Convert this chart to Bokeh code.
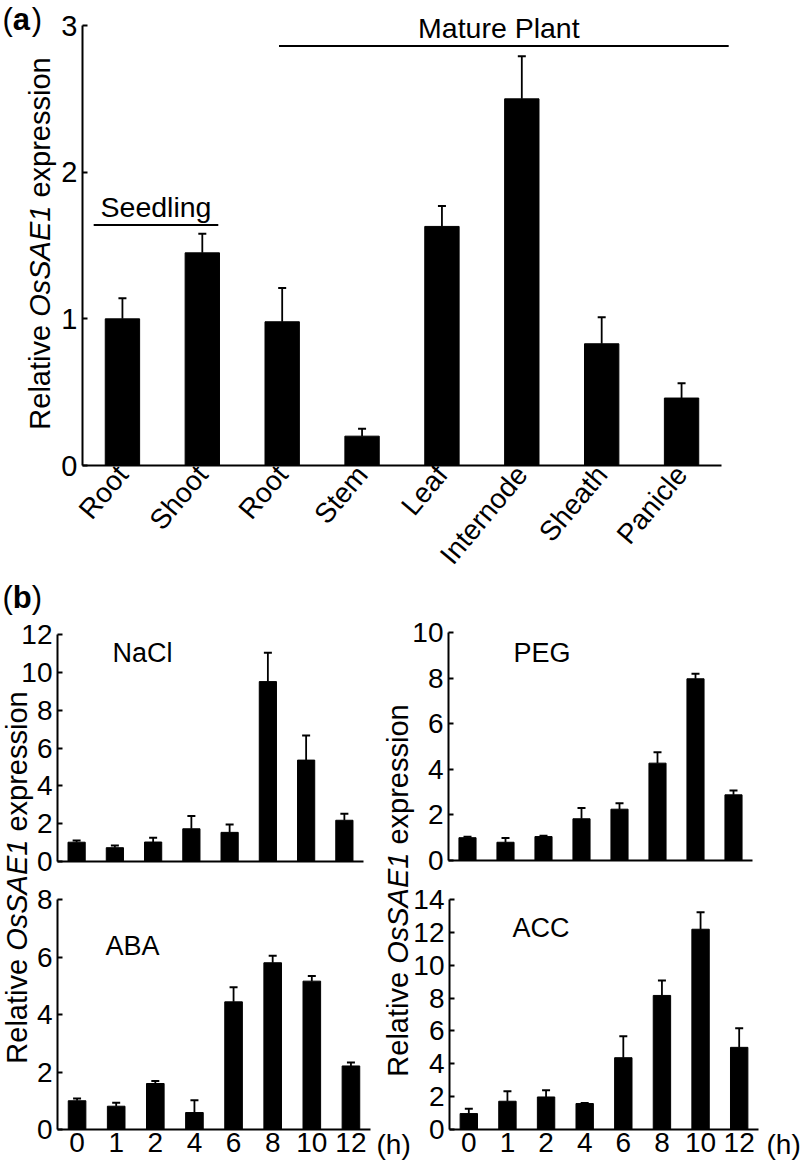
import numpy as np
from math import pi
from bokeh.plotting import figure
from bokeh.layouts import column
from bokeh.models import (Range1d, FixedTicker, ColumnDataSource, Whisker, TeeHead,
                          Label)
from bokeh.embed import file_html
from bokeh.resources import INLINE

W, H = 800, 1167
FONT = "Liberation Sans"

# ---------------- data ----------------
tissues = ["Root", "Shoot", "Root", "Stem", "Leaf", "Internode", "Sheath", "Panicle"]
tissue_expr = [1.00, 1.45, 0.98, 0.20, 1.63, 2.50, 0.83, 0.46]
tissue_err = [0.14, 0.13, 0.23, 0.05, 0.14, 0.29, 0.18, 0.10]

groups = ["Seedling", "Mature Plant"]
group_start = [-0.36, 1.96]
group_end = [1.20, 7.59]
group_level = [1.64, 2.86]

hours = ["0", "1", "2", "4", "6", "8", "10", "12"]
nacl_expr = [1.02, 0.73, 1.03, 1.73, 1.54, 9.51, 5.36, 2.18]
nacl_err = [0.09, 0.12, 0.23, 0.68, 0.41, 1.53, 1.30, 0.35]
peg_expr = [1.00, 0.80, 1.05, 1.83, 2.25, 4.27, 7.97, 2.88]
peg_err = [0.04, 0.19, 0.04, 0.47, 0.26, 0.48, 0.22, 0.19]
aba_expr = [1.00, 0.81, 1.60, 0.59, 4.44, 5.80, 5.16, 2.21]
aba_err = [0.08, 0.12, 0.09, 0.43, 0.51, 0.24, 0.18, 0.12]
acc_expr = [0.97, 1.72, 1.98, 1.58, 4.37, 8.16, 12.19, 5.00]
acc_err = [0.29, 0.61, 0.41, 0.04, 1.30, 0.91, 1.03, 1.17]

nacl_ticks = [0, 2, 4, 6, 8, 10, 12]
peg_ticks = [0, 2, 4, 6, 8, 10]
aba_ticks = [0, 2, 4, 6, 8]
acc_ticks = [0, 2, 4, 6, 8, 10, 12, 14]
tissue_ticks = [0, 1, 2, 3]

X_LO, X_HI = -0.5, 7.5


def base_fig(**kw):
    p = figure(width=W, height=H, output_backend="svg", toolbar_location=None,
               tools="", title=None, **kw)
    try:
        p.frame_align = False
    except Exception:
        pass
    p.background_fill_alpha = 0
    p.border_fill_alpha = 0
    p.outline_line_color = None
    p.xgrid.visible = False
    p.ygrid.visible = False
    return p


def make_panel(left, top, fw, fh, labels, values, errors, yticks, bar_w,
               ytick_size="28px", xtick_size="28px", show_x=True,
               xlab_angle=0, xlab_standoff=3, first=False):
    p = base_fig(x_range=Range1d(X_LO, X_HI), y_range=Range1d(0, yticks[-1]),
                 min_border_left=left, min_border_top=top,
                 min_border_right=W - left - fw, min_border_bottom=H - top - fh)
    if not first:
        p.margin = (-H, 0, 0, 0)
    x = list(range(len(labels)))
    src = ColumnDataSource(dict(x=x, top=values,
                                upper=[v + e for v, e in zip(values, errors)]))
    p.vbar(x="x", top="top", bottom=0, width=bar_w, source=src,
           fill_color="black", line_color="black", line_width=1)
    p.add_layout(Whisker(source=src, base="x", lower="top", upper="upper",
                         line_color="black", line_width=1.8, lower_head=None,
                         upper_head=TeeHead(size=8, line_width=2, line_color="black")))
    ya = p.yaxis[0]
    ya.ticker = FixedTicker(ticks=yticks)
    ya.minor_tick_line_color = None
    ya.major_tick_in = 5
    ya.major_tick_out = 0
    ya.axis_line_width = 2
    ya.major_tick_line_width = 2
    ya.major_label_standoff = 5
    ya.major_label_text_font = FONT
    ya.major_label_text_font_size = ytick_size
    ya.major_label_text_color = "black"
    xa = p.xaxis[0]
    xa.ticker = FixedTicker(ticks=x if show_x else [])
    xa.major_label_overrides = {i: lab for i, lab in zip(x, labels)}
    xa.minor_tick_line_color = None
    xa.major_tick_line_color = None
    xa.major_tick_in = 0
    xa.major_tick_out = 0
    xa.axis_line_width = 2
    xa.major_label_standoff = xlab_standoff
    xa.major_label_text_font = FONT
    xa.major_label_text_font_size = xtick_size
    xa.major_label_text_color = "black"
    if xlab_angle:
        xa.major_label_orientation = xlab_angle
    return p


# panel (a)
PA = dict(left=82, top=25, fw=639, fh=440)
pa = make_panel(PA["left"], PA["top"], PA["fw"], PA["fh"], tissues, tissue_expr,
                tissue_err, tissue_ticks, 0.43, ytick_size="29px", xtick_size="28px",
                xlab_angle=50 * pi / 180, xlab_standoff=4, first=True)

# panel (b)
p_nacl = make_panel(57, 634, 306, 227, hours, nacl_expr, nacl_err, nacl_ticks, 0.45,
                    show_x=False)
p_peg = make_panel(448, 632, 304, 228, hours, peg_expr, peg_err, peg_ticks, 0.45,
                   show_x=False)
p_aba = make_panel(57, 899, 313, 230, hours, aba_expr, aba_err, aba_ticks, 0.45)
p_acc = make_panel(449, 899, 309, 230, hours, acc_expr, acc_err, acc_ticks, 0.45)

# overlay with free text and group brackets in page coordinates
ov = base_fig(x_range=Range1d(0, W), y_range=Range1d(H, 0),
              min_border=0, x_axis_location=None, y_axis_location=None)
ov.margin = (-H, 0, 0, 0)


def pa_x(v):
    return PA["left"] + (v - X_LO) / (X_HI - X_LO) * PA["fw"]


def pa_y(v):
    return PA["top"] + PA["fh"] * (1 - v / tissue_ticks[-1])


ov.segment(x0=[pa_x(s) for s in group_start], x1=[pa_x(e) for e in group_end],
           y0=[pa_y(lv) for lv in group_level], y1=[pa_y(lv) for lv in group_level],
           line_color="black", line_width=2)


def txt(x, y, t, fs=27, style="normal", align="left", rotated=False):
    # place the text's alphabetic baseline at (x, y) in page pixels
    shift = 0.35 * fs
    if rotated:
        x, ang = x - shift, pi / 2
    else:
        y, ang = y - shift, 0
    ov.add_layout(Label(x=x, y=y, text=t, text_font=FONT, text_font_size=f"{fs}px",
                        text_font_style=style, text_align=align,
                        text_baseline="alphabetic", angle=ang, text_color="black"))


for g, s, e, lv in zip(groups, group_start, group_end, group_level):
    txt((pa_x(s) + pa_x(e)) / 2 - (5 if g == "Mature Plant" else 0), pa_y(lv) - 8, g,
        28.5, align="center")


def panel_tag(x, y, letter, fs=31):
    txt(x, y, "(", fs)
    txt(x + 0.333 * fs, y, letter, fs, "bold")
    txt(x + 0.333 * fs + 0.611 * fs, y, ")", fs)


panel_tag(2, 30, "a")
panel_tag(2, 608, "b")


def ylabel(xb, ycenter, fs=29):
    w_rel, w_sp, w_os, w_ex = 3.612 * fs, 0.278 * fs, 3.835 * fs, 4.835 * fs
    total = w_rel + w_sp + w_os + w_sp + w_ex
    y0 = ycenter + total / 2
    txt(xb, y0, "Relative", fs, rotated=True)
    txt(xb, y0 - w_rel - w_sp, "OsSAE1", fs, "italic", rotated=True)
    txt(xb, y0 - w_rel - 2 * w_sp - w_os, "expression", fs, rotated=True)


ylabel(50, 243)
ylabel(27, 877)
ylabel(408, 890)

txt(112, 662, "NaCl")
txt(513, 662, "PEG")
txt(105, 955, "ABA")
txt(512, 937, "ACC")
txt(376, 1154, "(h)", 28)
txt(766, 1154, "(h)", 28)

layout = column(pa, p_nacl, p_peg, p_aba, p_acc, ov)

open("out.html", "w").write(file_html(layout, INLINE))
